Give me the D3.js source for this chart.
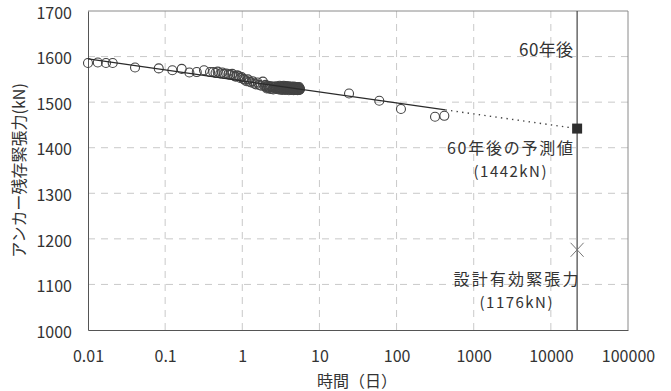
<!DOCTYPE html>
<html>
<head>
<meta charset="utf-8">
<script src="https://cdn.jsdelivr.net/npm/d3@7"></script>
<style>
  body { margin: 0; background: #fff; }
  svg { display: block; }
</style>
</head>
<body>
<div id="chart"></div>
<script>
// measured points: elapsed days / residual anchor tension (kN)
const days = [
  0.0100, 0.0134, 0.0171, 0.0209, 0.0407, 0.0826, 0.124, 0.164, 0.206, 0.257, 0.319, 0.382,
  0.42, 0.45, 0.48, 0.52, 0.55, 0.58, 0.62, 0.66, 0.70, 0.74, 0.78, 0.82, 0.86, 0.90, 0.94, 0.98,
  1.03, 1.08, 1.13, 1.18, 1.24, 1.30, 1.36, 1.43, 1.50, 1.58, 1.66, 1.75, 1.85, 1.95,
  2.00, 2.05, 2.10, 2.15, 2.20, 2.25, 2.32, 2.40, 2.47, 2.55, 2.62, 2.70, 2.78, 2.85, 2.92, 3.00,
  3.05, 3.10, 3.15, 3.20, 3.25, 3.30, 3.35, 3.40, 3.45, 3.50, 3.55, 3.60, 3.65, 3.70, 3.75, 3.80,
  3.85, 3.90, 3.95, 4.00, 4.05, 4.10, 4.15, 4.20, 4.25, 4.30, 4.35, 4.40, 4.45, 4.50, 4.55,
  4.60, 4.65, 4.70, 4.75, 4.80, 4.85, 4.90, 4.95, 5.00, 5.05, 5.10, 5.15, 5.20, 5.25, 5.30,
  5.35, 5.40, 5.45, 5.50, 5.55, 5.60,
  2.08, 2.30, 2.52, 2.75, 2.98, 3.12, 3.28, 3.42, 3.58, 3.72, 3.88, 4.02, 4.18, 4.32, 4.48,
  4.62, 4.78, 4.92, 5.08, 5.22, 5.38, 5.52,
  24.2, 59.7, 114, 315, 416
];
const tension = [
  1586, 1587, 1586, 1586, 1576, 1574, 1570, 1573, 1565, 1566, 1570, 1566,
  1566, 1564, 1567, 1563, 1565, 1562, 1563, 1561, 1560, 1562, 1558, 1556, 1559, 1557, 1553, 1555,
  1551, 1549, 1546, 1550, 1545, 1543, 1546, 1541, 1539, 1543, 1538, 1536, 1545, 1535,
  1538, 1534, 1532, 1536, 1531, 1533, 1535, 1534, 1530, 1532, 1533, 1535, 1529, 1531, 1534, 1533,
  1536, 1528, 1532, 1530, 1535, 1534, 1531, 1533, 1536, 1529, 1532, 1531, 1534, 1535, 1530, 1534,
  1532, 1528, 1535, 1530, 1533, 1531, 1529, 1532, 1534, 1528, 1531, 1529, 1533, 1533, 1530,
  1531, 1534, 1527, 1532, 1528, 1533, 1532, 1529, 1530, 1533, 1527, 1531, 1528, 1532, 1530,
  1528, 1531, 1533, 1527, 1530, 1529,
  1530, 1529, 1528, 1530, 1528, 1531, 1527, 1529, 1527, 1528, 1530, 1526, 1528, 1527, 1529,
  1526, 1529, 1527, 1528, 1526, 1527, 1528,
  1519, 1503, 1485, 1468, 1470
];

// fitted line (solid over measured range, dotted extrapolation to 60 years)
const fitDays = [0.01, 430];
const fitKN = [1595, 1483];
const extDays = [430, 21900];
const extKN = [1483, 1442];

const sixtyYears = 21900;
const predicted = 1442;
const design = 1176;

const xTicks = [0.01, 0.1, 1, 10, 100, 1000, 10000, 100000];
const xTickLabels = ["0.01", "0.1", "1", "10", "100", "1000", "10000", "100000"];
const yTicks = [1000, 1100, 1200, 1300, 1400, 1500, 1600, 1700];

const sizes = {width: 671, height: 391, margin: {top: 11, right: 43, bottom: 61, left: 88}};
const FONT = "'Noto Sans CJK JP', 'Noto Sans', sans-serif";
const INK = "#333";

const svg = d3.select("#chart").append("svg")
  .attr("width", sizes.width)
  .attr("height", sizes.height)
  .attr("viewBox", `0 0 ${sizes.width} ${sizes.height}`);

const x = d3.scaleLog()
  .domain([0.01, 100000])
  .range([sizes.margin.left, sizes.width - sizes.margin.right]);

const y = d3.scaleLinear()
  .domain([1000, 1700])
  .range([sizes.height - sizes.margin.bottom, sizes.margin.top]);

const x0 = x.range()[0], x1 = x.range()[1];
const y0 = y.range()[0], y1 = y.range()[1];

// dashed grid
svg.append("g")
  .selectAll("line")
  .data(yTicks.slice(1, -1))
  .join("line")
    .attr("x1", x0).attr("x2", x1)
    .attr("y1", d => y(d)).attr("y2", d => y(d))
    .attr("stroke", "#c9c9c9")
    .attr("stroke-dasharray", "7 6");

svg.append("g")
  .selectAll("line")
  .data(xTicks.slice(1, -1))
  .join("line")
    .attr("x1", d => x(d)).attr("x2", d => x(d))
    .attr("y1", y1).attr("y2", y0)
    .attr("stroke", "#c9c9c9")
    .attr("stroke-dasharray", "7 6");

// frame: top/right light, left/bottom darker
svg.append("path")
  .attr("fill", "none")
  .attr("stroke", "#8a8a8a")
  .attr("d", `M ${x0} ${y1} L ${x1} ${y1} L ${x1} ${y0}`);

// axes
svg.append("g")
  .attr("transform", `translate(0,${y0})`)
  .call(d3.axisBottom(x).tickValues(xTicks).tickSize(0).tickPadding(21)
    .tickFormat((d, i) => xTickLabels[i]))
  .call(g => g.select(".domain").attr("stroke", "#555"))
  .selectAll("text")
    .style("font-size", "16px")
    .style("font-family", FONT)
    .style("fill", INK);

svg.append("g")
  .attr("transform", `translate(${x0},0)`)
  .call(d3.axisLeft(y).tickValues(yTicks).tickSize(0).tickPadding(16)
    .tickFormat(d3.format("d")))
  .call(g => g.select(".domain").attr("stroke", "#555"))
  .selectAll("text")
    .attr("dy", "0.45em")
    .style("font-size", "16px")
    .style("font-family", FONT)
    .style("fill", INK);

// 60-year vertical line
svg.append("line")
  .attr("x1", x(sixtyYears)).attr("x2", x(sixtyYears))
  .attr("y1", y1).attr("y2", y0)
  .attr("stroke", "#444")
  .attr("stroke-width", 1.2);

// measured circles
svg.append("g")
  .selectAll("circle")
  .data(days.map((d, i) => ({t: d, v: tension[i]})))
  .join("circle")
    .attr("cx", d => x(d.t))
    .attr("cy", d => y(d.v))
    .attr("r", 4.5)
    .attr("fill", "none")
    .attr("stroke", "#444")
    .attr("stroke-width", 1.1);

const line = d3.line()
  .x(d => x(d[0]))
  .y(d => y(d[1]));

svg.append("path")
  .attr("fill", "none")
  .attr("stroke", "#2a2a2a")
  .attr("stroke-width", 1.3)
  .attr("d", line(fitDays.map((d, i) => [d, fitKN[i]])));

svg.append("path")
  .attr("fill", "none")
  .attr("stroke", "#444")
  .attr("stroke-width", 1.4)
  .attr("stroke-dasharray", "1.4 4.2")
  .attr("d", line(extDays.map((d, i) => [d, extKN[i]])));

// predicted value square
svg.append("rect")
  .attr("x", x(sixtyYears) - 5)
  .attr("y", y(predicted) - 5)
  .attr("width", 10)
  .attr("height", 10)
  .attr("fill", "#2e2e2e");

// design effective tension cross
const cx = x(sixtyYears), cy = y(design);
svg.append("path")
  .attr("fill", "none")
  .attr("stroke", "#777")
  .attr("stroke-width", 1)
  .attr("d", `M ${cx - 6.5} ${cy - 7} L ${cx + 6.5} ${cy + 7} M ${cx - 6.5} ${cy + 7} L ${cx + 6.5} ${cy - 7}`);

// annotations
const note = (text, px, py, anchor, len, size = 17) => {
  const t = svg.append("text")
    .text(text)
    .attr("x", px)
    .attr("y", py)
    .style("text-anchor", anchor)
    .style("font-size", `${size}px`)
    .style("font-family", FONT)
    .style("fill", INK);
  if (len) t.attr("textLength", len).attr("lengthAdjust", "spacing");
};

note("60年後", cx - 4, 56, "end", 54);
note("60年後の予測値", 510, 154, "middle", 126, 16);
note("(1442kN)", 510, 177, "middle", 73, 15);
note("設計有効緊張力", 516, 285, "middle", 125, 16);
note("(1176kN)", 516, 308, "middle", 73, 15);

// axis titles
svg.append("text")
  .text("時間（日）")
  .attr("x", 357)
  .attr("y", 387)
  .style("text-anchor", "middle")
  .style("font-size", "16px")
  .style("font-family", FONT)
  .style("fill", INK);

svg.append("text")
  .text("アンカー残存緊張力(kN)")
  .attr("transform", `translate(25,${(y0 + y1) / 2}) rotate(-90)`)
  .style("text-anchor", "middle")
  .style("font-size", "16px")
  .style("font-family", FONT)
  .style("fill", INK);
</script>
</body>
</html>
